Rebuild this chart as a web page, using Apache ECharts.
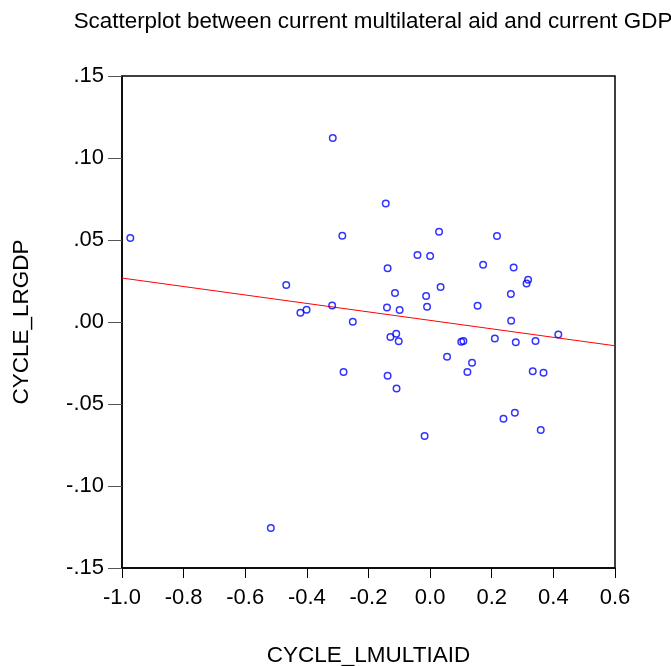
<!DOCTYPE html>
<html>
<head>
<meta charset="utf-8">
<script src="https://cdn.jsdelivr.net/npm/echarts@6/dist/echarts.min.js"></script>
<style>
  html, body { margin: 0; padding: 0; background: #fff; }
  #chart { width: 671px; height: 666px; }
</style>
</head>
<body>
<div id="chart"></div>
<script>
// cycle_lmultiaid (x) values
var aidCycle = [
  -0.973, -0.316, -0.285, -0.467, -0.318, -0.421, -0.401, -0.251, -0.281, -0.517,
  -0.144, 0.029, 0.217, -0.041, 0.000, -0.138, 0.172, 0.271, 0.318, 0.313,
  0.034, -0.114, -0.013, 0.262, -0.140, -0.099, -0.010, 0.154, 0.263, 0.416,
  -0.110, -0.129, -0.102, 0.101, 0.108, 0.210, 0.278, 0.342, 0.055, 0.136,
  0.121, -0.138, -0.109, 0.333, 0.368, 0.238, 0.275, 0.359, -0.018
];
// cycle_lrgdp (y) values
var gdpCycle = [
  0.0512, 0.1122, 0.0526, 0.0226, 0.0101, 0.0057, 0.0075, 0.0002, -0.0305, -0.1256,
  0.0723, 0.0551, 0.0524, 0.0409, 0.0402, 0.0327, 0.0349, 0.0333, 0.0258, 0.0235,
  0.0213, 0.0177, 0.0159, 0.0171, 0.0089, 0.0073, 0.0093, 0.0099, 0.0008, -0.0076,
  -0.0071, -0.0091, -0.0118, -0.0120, -0.0116, -0.0100, -0.0124, -0.0116, -0.0212, -0.0248,
  -0.0305, -0.0327, -0.0405, -0.0301, -0.0309, -0.0590, -0.0553, -0.0659, -0.0695
];
// fitted line end points
var fitX = [-1.0, 0.6];
var fitY = [0.0268, -0.0145];

var xTicks = ["-1.0", "-0.8", "-0.6", "-0.4", "-0.2", "0.0", "0.2", "0.4", "0.6"];
var yTicks = ["-.15", "-.10", "-.05", ".00", ".05", ".10", ".15"];

var points = aidCycle.map(function (x, i) { return [x, gdpCycle[i]]; });
var fitLine = fitX.map(function (x, i) { return [x, fitY[i]]; });

var chart = echarts.init(document.getElementById("chart"));
chart.setOption({
  animation: false,
  textStyle: { fontFamily: "Liberation Sans, Arial, sans-serif" },
  title: {
    text: "Scatterplot between current multilateral aid and current GDP",
    left: 368,
    textAlign: "center",
    top: 6,
    textStyle: { fontSize: 22.4, fontWeight: "normal", color: "#000" }
  },
  grid: {
    left: 122,
    right: 56,
    top: 76,
    bottom: 98,
    containLabel: false,
    outerBoundsMode: "none",
    show: true,
    borderColor: "#000",
    borderWidth: 1.5
  },
  xAxis: {
    type: "value",
    min: -1.0,
    max: 0.6,
    interval: 0.2,
    name: "CYCLE_LMULTIAID",
    nameLocation: "middle",
    nameGap: 76,
    nameTextStyle: { fontSize: 22.5, color: "#000" },
    axisLine: { show: true, onZero: false, lineStyle: { color: "#000", width: 1.5 } },
    axisTick: { show: true, length: 10, lineStyle: { color: "#000" } },
    axisLabel: {
      fontSize: 22,
      color: "#000",
      margin: 19,
      formatter: function (v) {
        var i = Math.round((v + 1.0) / 0.2);
        return xTicks[i];
      }
    },
    splitLine: { show: false }
  },
  yAxis: {
    type: "value",
    min: -0.15,
    max: 0.15,
    interval: 0.05,
    name: "CYCLE_LRGDP",
    nameLocation: "middle",
    nameGap: 89,
    nameRotate: 90,
    nameTextStyle: { fontSize: 22.5, color: "#000" },
    axisLine: { show: true, onZero: false, lineStyle: { color: "#000", width: 1.5 } },
    axisTick: { show: true, length: 14, lineStyle: { color: "#555" } },
    axisLabel: {
      fontSize: 22,
      color: "#000",
      margin: 18,
      formatter: function (v) {
        var i = Math.round((v + 0.15) / 0.05);
        return yTicks[i];
      }
    },
    splitLine: { show: false }
  },
  series: [
    {
      type: "line",
      data: fitLine,
      symbol: "none",
      lineStyle: { color: "#ff0000", width: 1 },
      z: 1
    },
    {
      type: "scatter",
      data: points,
      symbol: "circle",
      symbolSize: 6.5,
      itemStyle: { color: "transparent", borderColor: "#0000ff", borderWidth: 1.5 },
      z: 2
    }
  ]
});
</script>
</body>
</html>
